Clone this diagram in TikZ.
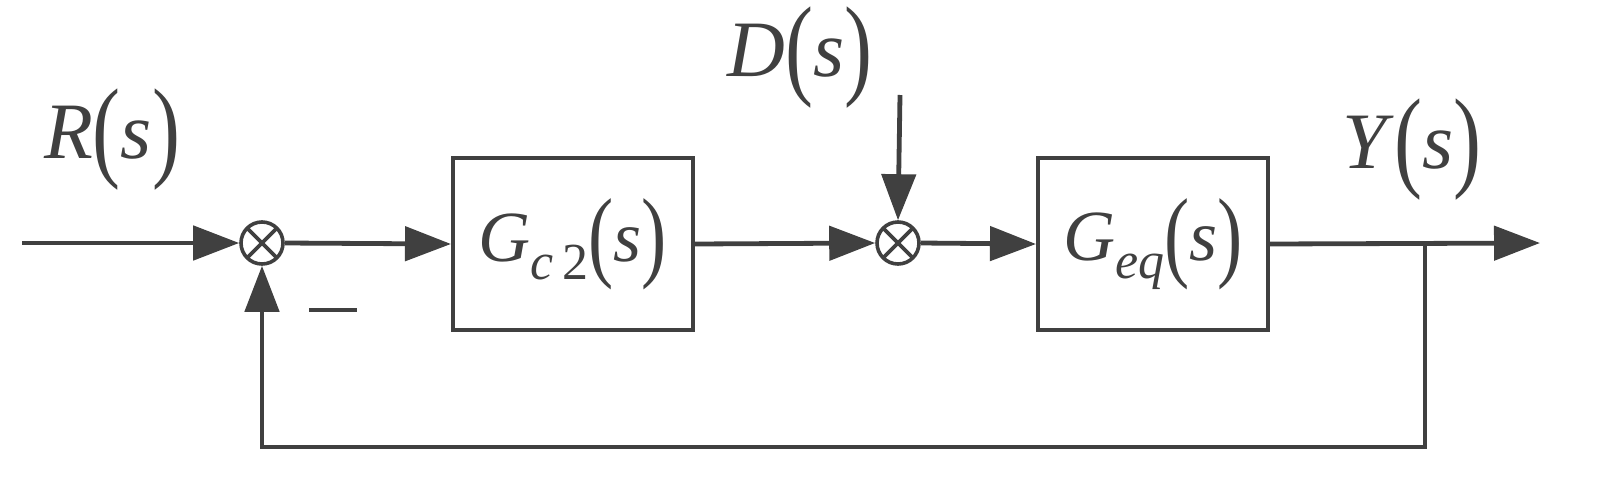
\documentclass[tikz,border=0pt]{standalone}
\usepackage{fontspec}
\setmainfont{Liberation Serif}
\usetikzlibrary{arrows.meta}
\definecolor{dk}{HTML}{404040}
\newcommand{\pp}[1]{\raisebox{-0.1em}{\scalebox{1.05}[1.4]{(}}\textit{#1}\raisebox{-0.1em}{\scalebox{1.05}[1.4]{)}}}
\begin{document}
\begin{tikzpicture}[x=0.5pt,y=-0.5pt,
  line width=2.4pt, draw=dk,
  ar/.style={-{Triangle[length=23pt,width=17pt]}},
  sumj/.style={circle,draw=dk,line width=1.8pt,minimum size=21pt,inner sep=0pt,
    path picture={\draw[dk,line width=1.8pt] (path picture bounding box.south west)--(path picture bounding box.north east)
      (path picture bounding box.north west)--(path picture bounding box.south east);}},
  blk/.style={draw=dk,line width=2pt,minimum width=120pt,minimum height=86pt,inner sep=0pt,text=dk,font=\fontsize{36}{40}\selectfont},
  lab/.style={text=dk,font=\fontsize{40}{44}\selectfont,inner sep=0pt}]
\useasboundingbox (0,0) rectangle (1609,493);
\node[sumj] (s1) at (262,243) {};
\node[sumj] (s2) at (898,243) {};
\node[blk] (b1) at (573,244) {\textit{G}\raisebox{-0.25em}{\fontsize{26}{28}\selectfont\textit{c}\,2}\pp{s}};
\node[blk,minimum width=115pt] (b2) at (1153,244) {\textit{G}\raisebox{-0.25em}{\fontsize{26}{28}\selectfont\textit{eq}}\pp{s}};
\coordinate (in) at (22,243);
\coordinate (out) at (1540,243);
\coordinate (br) at (1425,243);
\coordinate (fb1) at (1425,447);
\coordinate (fb2) at (262,447);
\coordinate (dtop) at (900,95);
\draw[ar] (in) -- (s1.west);
\draw[ar] (s1.east) -- (b1.west);
\draw[ar] (b1.east) -- (s2.west);
\draw[ar] (s2.east) -- (b2.west);
\draw[ar] (b2.east) -- (out);
\draw[ar] (dtop) -- (s2.north);
\draw[ar] (br) -- (fb1) -- (fb2) -- (s1.south);
\node[lab] (r) at (112,140) {\textit{R}\pp{s}};
\node[lab] (d) at (800,58) {\textit{D}\pp{s}};
\node[lab] (y) at (1412,150) {\textit{Y}\pp{s}};
\node[lab] (m) at (333,310) {\rule{24pt}{2.4pt}};
\end{tikzpicture}
\end{document}
